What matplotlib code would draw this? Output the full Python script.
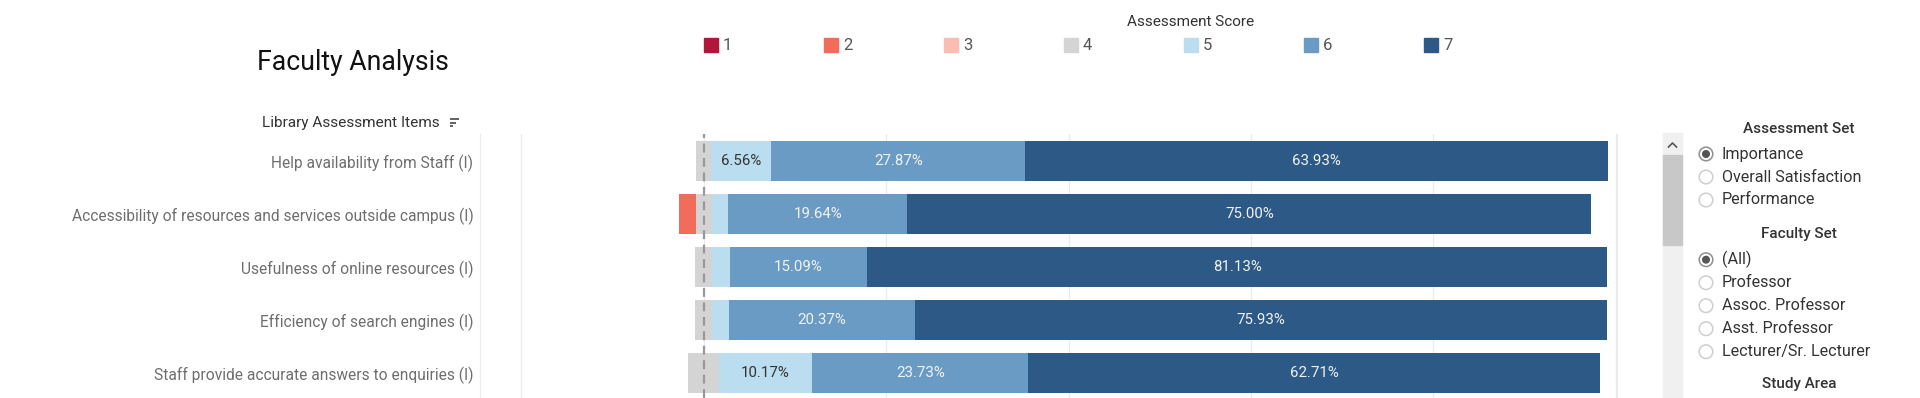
import matplotlib
matplotlib.use("Agg")
import matplotlib.pyplot as plt
from matplotlib.patches import Rectangle, Circle
import numpy as np

# ---------------- data ----------------
items = ["Help availability from Staff (I)",
         "Accessibility of resources and services outside campus (I)",
         "Usefulness of online resources (I)",
         "Efficiency of search engines (I)",
         "Staff provide accurate answers to enquiries (I)"]
scores = ["1", "2", "3", "4", "5", "6", "7"]
score1 = [0.00, 0.00, 0.00, 0.00, 0.00]
score2 = [0.00, 1.79, 0.00, 0.00, 0.00]
score3 = [0.00, 0.00, 0.00, 0.00, 0.00]
score4 = [1.64, 1.79, 1.89, 1.85, 3.39]
score5 = [6.56, 1.79, 1.89, 1.85, 10.17]
score6 = [27.87, 19.64, 15.09, 20.37, 23.73]
score7 = [63.93, 75.00, 81.13, 75.93, 62.71]
colors = ["#b0173b", "#f26b5b", "#fbbdb0", "#d4d4d4", "#badef0", "#6a9bc4", "#2c5985"]

assessment_sets = ["Importance", "Overall Satisfaction", "Performance"]
faculty_sets = ["(All)", "Professor", "Assoc. Professor", "Asst. Professor", "Lecturer/Sr. Lecturer"]
selected_assessment = "Importance"
selected_faculty = "(All)"

plt.rcParams['font.family'] = ['Roboto', 'DejaVu Sans']

W, H = 1920, 398
fig = plt.figure(figsize=(W / 100, H / 100), dpi=100)
fig.patch.set_facecolor("white")

# background overlay in pixel coordinates for dashboard furniture
bg = fig.add_axes([0, 0, 1, 1])
bg.set_xlim(0, W)
bg.set_ylim(H, 0)
bg.axis("off")

# ---------------- main chart ----------------
ax = fig.add_axes([480.3 / W, 0, (1616.7 - 480.3) / W, (H - 134) / H])
y = np.arange(len(items))
h = 0.755

s4 = np.array(score4)
ax.barh(y, s4, left=-s4 / 2, color=colors[3], height=h, zorder=2)
cur = -s4 / 2
for s, c in [(score3, colors[2]), (score2, colors[1]), (score1, colors[0])]:
    s = np.array(s)
    ax.barh(y, s, left=cur - s, color=c, height=h, zorder=2)
    cur = cur - s
cur = s4 / 2
for s, c, tc in [(score5, colors[4], "#333333"),
                 (score6, colors[5], "#f2f2f2"),
                 (score7, colors[6], "#f2f2f2")]:
    s = np.array(s)
    ax.barh(y, s, left=cur, color=c, height=h, zorder=2)
    for yi, (l, v) in enumerate(zip(cur, s)):
        if v >= 5:
            ax.text(l + v / 2, yi, f"{v:.2f}%", ha="center", va="center",
                    fontsize=10.8, color=tc, zorder=4)
    cur = cur + s

ax.axvline(0, color="#999999", ls=(0, (4, 2.5)), lw=1.6, zorder=3)
ax.set_xlim(-24.5, 100.1)
ax.set_ylim(4.47, -0.51)
ax.set_xticks([-20, 0, 20, 40, 60, 80, 100])
ax.grid(axis="x", color="#ececec", lw=1, zorder=0)
ax.tick_params(axis="x", length=0, labelbottom=False)
ax.set_yticks(y, items)
ax.tick_params(axis="y", length=0, pad=5, labelsize=11.2, labelcolor="#6e6e6e")
for sp in ["top", "bottom"]:
    ax.spines[sp].set_visible(False)
for sp in ["left", "right"]:
    ax.spines[sp].set_color("#ebebeb")

# ---------------- title & headers ----------------
bg.text(353, 63, "Faculty Analysis", ha="center", va="center", fontsize=19.2, color="#111111")
bg.text(262, 123, "Library Assessment Items", ha="left", va="center", fontsize=11.1, color="#333333")
for i, ln in enumerate([9, 6, 3]):
    yy = 119 + i * 3.5
    bg.plot([450, 450 + ln], [yy, yy], color="#555555", lw=1.3, solid_capstyle="butt")

# ---------------- legend ----------------
bg.text(1191, 22, "Assessment Score", ha="center", va="center", fontsize=11, color="#333333")
for i, (lab, c) in enumerate(zip(scores, colors)):
    x0 = 704 + i * 120
    bg.add_patch(Rectangle((x0, 38), 13.5, 14, color=c))
    bg.text(x0 + 19, 45.5, lab, ha="left", va="center", fontsize=12, color="#555555")

# ---------------- right panel ----------------
bg.add_patch(Rectangle((1662.7, 133), 19.6, H - 133, color="#f0f0f0"))
bg.add_patch(Rectangle((1662.7, 155), 19.6, 90, color="#c8c8c8"))
bg.plot([1668.5, 1672.5, 1676.5], [147, 143, 147], color="#555555", lw=1.2)

def radio_group(title, ty, opts, y0, sel):
    bg.text(1799, ty, title, ha="center", va="center", fontsize=11, color="#333333",
            fontweight="medium")
    for i, o in enumerate(opts):
        yy = y0 + i * 23
        on = (o == sel)
        bg.add_patch(Circle((1706, yy), 6.8, facecolor="white",
                            edgecolor="#8f8f8f" if on else "#cfcfcf", lw=1.1))
        if on:
            bg.add_patch(Circle((1706, yy), 3.3, color="#555555"))
        bg.text(1721.7, yy, o, ha="left", va="center", fontsize=11.6, color="#333333")

radio_group("Assessment Set", 129, assessment_sets, 154, selected_assessment)
radio_group("Faculty Set", 233.7, faculty_sets, 259.7, selected_faculty)
bg.text(1799, 384, "Study Area", ha="center", va="center", fontsize=11, color="#333333",
        fontweight="medium")

fig.savefig("out.png", dpi=100, facecolor="white")
